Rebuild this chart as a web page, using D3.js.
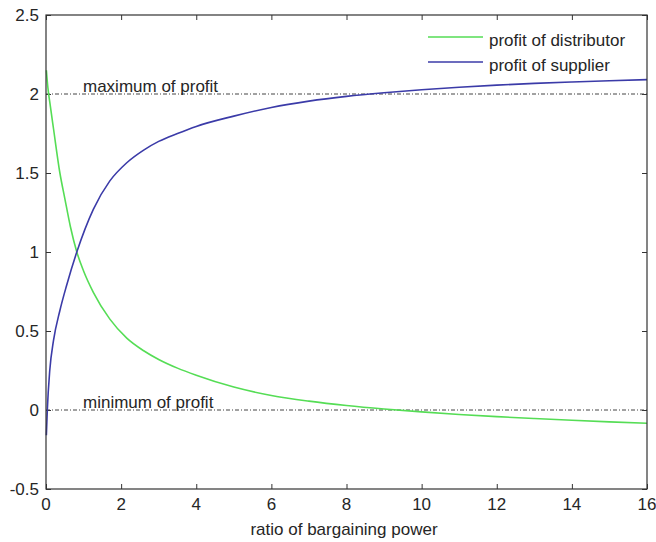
<!DOCTYPE html>
<html>
<head>
<meta charset="utf-8">
<script src="https://cdn.jsdelivr.net/npm/d3@7"></script>
<style>
  body { margin: 0; background: #fff; }
  text { font-family: "Liberation Sans", Arial, sans-serif; fill: #262626; }
</style>
</head>
<body>
<svg id="chart" width="656" height="542"></svg>
<script>
// values
var ratioDistributor = [0.01, 0.05, 0.1, 0.2, 0.37, 0.5, 0.65, 0.82, 1.0, 1.26, 1.7, 2.15, 2.6, 3, 3.5, 4,
                        5, 6, 7, 8, 9, 10, 11, 12, 13, 14, 15, 16]
var distributor = [2.15, 2.04, 1.95, 1.78, 1.5, 1.34, 1.16, 1.0, 0.88, 0.745, 0.575, 0.455, 0.375, 0.32, 0.265, 0.22,
                   0.145, 0.092, 0.056, 0.028, 0.006, -0.012, -0.028, -0.042, -0.054, -0.065, -0.075, -0.084]
var ratioSupplier = [0.01, 0.035, 0.1, 0.2, 0.37, 0.55, 0.82, 1.26, 1.7, 2.15, 2.6, 3, 3.5, 4,
                     5, 6, 7, 8, 9, 10, 11, 12, 13, 14, 15, 16]
var supplier = [-0.16, 0.0, 0.25, 0.44, 0.63, 0.79, 1.0, 1.27, 1.45, 1.565, 1.645, 1.7, 1.75, 1.795,
                1.86, 1.915, 1.955, 1.985, 2.008, 2.027, 2.043, 2.056, 2.067, 2.076, 2.084, 2.091]
var xTicks = [0, 2, 4, 6, 8, 10, 12, 14, 16]
var yTicks = [-0.5, 0, 0.5, 1, 1.5, 2, 2.5]
var seriesNames = ["profit of distributor", "profit of supplier"]
var seriesColors = ["#55dd55", "#3b3ba8"]
var refLevels = [2, 0]
var refLabels = ["maximum of profit", "minimum of profit"]

var svg = d3.select("#chart")
var m = {left: 46, right: 647, top: 15, bottom: 489}

var x = d3.scaleLinear().domain([0, 16]).range([m.left, m.right])
var y = d3.scaleLinear().domain([-0.5, 2.5]).range([m.bottom, m.top])

// tick marks, inward on all four sides
var axisColor = "#333"
function inward(g) { g.select(".domain").remove(); g.selectAll("line").attr("stroke", axisColor) }

svg.append("g").attr("transform", "translate(0," + m.bottom + ")")
  .call(d3.axisTop(x).tickValues(xTicks).tickSize(5).tickFormat(""))
  .call(inward)
svg.append("g").attr("transform", "translate(0," + m.top + ")")
  .call(d3.axisBottom(x).tickValues(xTicks).tickSize(5).tickFormat(""))
  .call(inward)
svg.append("g").attr("transform", "translate(" + m.left + ",0)")
  .call(d3.axisRight(y).tickValues(yTicks).tickSize(5).tickFormat(""))
  .call(inward)
svg.append("g").attr("transform", "translate(" + m.right + ",0)")
  .call(d3.axisLeft(y).tickValues(yTicks).tickSize(5).tickFormat(""))
  .call(inward)

// tick labels
svg.append("g").selectAll("text").data(xTicks).enter().append("text")
  .attr("x", function(d) { return x(d) }).attr("y", 510)
  .attr("text-anchor", "middle").attr("font-size", 17)
  .text(function(d) { return d })
svg.append("g").selectAll("text").data(yTicks).enter().append("text")
  .attr("x", 39).attr("y", function(d) { return y(d) }).attr("dy", "0.36em")
  .attr("text-anchor", "end").attr("font-size", 17)
  .text(function(d) { return d })

svg.append("text").attr("x", 344).attr("y", 535)
  .attr("text-anchor", "middle").attr("font-size", 17)
  .text("ratio of bargaining power")

// reference lines (dash-dot)
refLevels.forEach(function(v, i) {
  svg.append("line")
    .attr("x1", x(0)).attr("x2", x(16)).attr("y1", y(v)).attr("y2", y(v))
    .attr("stroke", "#444").attr("stroke-width", 1).attr("stroke-dasharray", "4,2,1,2")
  svg.append("text").attr("x", 83).attr("y", y(v) - 2)
    .attr("font-size", 17).text(refLabels[i])
})

// curves
var line = d3.line().curve(d3.curveMonotoneX)
  .x(function(d) { return x(d[0]) }).y(function(d) { return y(d[1]) })
var series = [[ratioDistributor, distributor], [ratioSupplier, supplier]]
series.forEach(function(s, i) {
  svg.append("path")
    .datum(s[0].map(function(r, j) { return [r, s[1][j]] }))
    .attr("d", line).attr("fill", "none")
    .attr("stroke", seriesColors[i]).attr("stroke-width", 1.6)
})

// frame
svg.append("rect").attr("x", m.left).attr("y", m.top)
  .attr("width", m.right - m.left).attr("height", m.bottom - m.top)
  .attr("fill", "none").attr("stroke", axisColor).attr("stroke-width", 1.2)

// legend
var leg = svg.append("g")
seriesNames.forEach(function(name, i) {
  var ly = 37 + i * 25
  leg.append("line").attr("x1", 428).attr("x2", 483).attr("y1", ly).attr("y2", ly)
    .attr("stroke", seriesColors[i]).attr("stroke-width", 1.6)
  leg.append("text").attr("x", 489).attr("y", ly + 8.5).attr("font-size", 17).text(name)
})
</script>
</body>
</html>
